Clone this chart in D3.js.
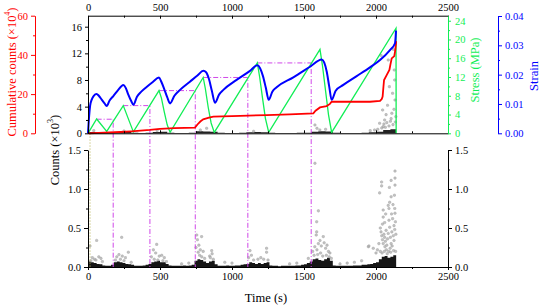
<!DOCTYPE html>
<html>
<head>
<meta charset="utf-8">
<script src="https://cdn.jsdelivr.net/npm/d3@7"></script>
<style>
  body { margin: 0; background: #fff; }
  svg { display: block; font-family: "Liberation Serif", "Times New Roman", serif; }
  .axis text { font-family: "Liberation Serif", "Times New Roman", serif; font-size: 10.5px; }
</style>
</head>
<body>
<div id="chart"></div>
<script>
// stress (MPa) vs time (s)
const stressData = [[0,0],[60,3.05],[130,0.4],[245,5.9],[315,0.3],[493,9.1],[510,7.5],[530,4.5],[550,1.8],[570,0.2],
  [800,11.9],[815,9.5],[835,5.5],[855,2.2],[877,0.2],[1176,15.0],[1192,12],[1212,7.5],[1232,3.2],[1255,0.2],
  [1611,17.9],[1628,14.5],[1648,9.5],[1670,4.0],[1692,0.2],[2139,22.4],[2140,0]];

// strain vs time
const strainData = [[0,0],[8,0.006],[15,0.0095],[25,0.0114],[40,0.0128],[60,0.0134],[75,0.0128],[95,0.0115],[115,0.0102],[130,0.0093],
  [150,0.0112],[176,0.0127],[210,0.0148],[245,0.0165],[262,0.0155],[280,0.0132],[300,0.011],[315,0.0097],
  [340,0.0125],[370,0.0142],[407,0.0158],[450,0.0175],[493,0.019],[510,0.0175],[530,0.015],[550,0.0123],[570,0.0102],
  [600,0.0128],[639,0.0148],[708,0.0176],[760,0.0197],[801,0.0213],[820,0.0208],[840,0.0185],[860,0.0145],[882,0.0104],
  [910,0.0132],[940,0.0148],[1032,0.0182],[1125,0.0213],[1176,0.0232],[1195,0.0222],[1215,0.0195],[1235,0.0155],[1255,0.0114],
  [1280,0.0142],[1310,0.0157],[1426,0.0191],[1542,0.0227],[1623,0.0252],[1640,0.0242],[1658,0.021],[1675,0.016],[1692,0.0114],
  [1720,0.0145],[1773,0.0165],[1866,0.0195],[1958,0.0225],[2028,0.025],[2097,0.0284],[2132,0.0307],[2135,0.032],[2139,0.035]];

// cumulative counts (x10^4) vs time
const cumData = [[0,0],[150,0.4],[300,1.0],[430,1.7],[500,2.3],[600,2.6],[743,2.9],[760,4.5],[780,6.0],[800,7.1],[840,8.0],[870,8.5],
  [1000,8.8],[1240,9.3],[1400,9.7],[1565,10.2],[1580,11.5],[1611,13.2],[1657,13.9],[1680,15.0],[1692,16.1],[1958,16.1],
  [2028,16.5],[2040,17.5],[2046,18.7],[2052,24],[2056,27.2],[2074,29.7],[2093,32.3],[2100,35],[2109,38.2],[2127,39.4],
  [2133,42],[2139,45.9],[2140,47]];

// Kaiser lines: peak time, peak stress, time where the next cycle reaches it
const kaiserLines = [[60,3.0,175],[245,5.9,430],[493,9.1,745],[800,11.9,1110],[1176,15.0,1550]];
const oliveT = 14;

// dense counts band near zero, bottom panel (bin start every 20 s, height x10^3)
const bandBottom = [0.07,0.06,0.05,0.04,0.035,0.02,0.015,0.015,0.03,0.06,0.07,0.06,0.05,0.04,0.035,0.03,0.015,0.015,0.015,0.02,
  0.03,0.04,0.06,0.07,0.08,0.06,0.06,0.04,0.02,0.015,0.015,0.015,0.015,0.02,0.015,0.02,0.03,0.08,0.10,0.09,
  0.07,0.05,0.07,0.08,0.035,0.015,0.015,0.015,0.02,0.015,0.015,0.02,0.02,0.03,0.035,0.04,0.06,0.05,0.04,0.05,
  0.04,0.05,0.06,0.02,0.015,0.015,0.01,0.015,0.015,0.015,0.015,0.015,0.02,0.02,0.03,0.035,0.05,0.07,0.10,0.11,
  0.09,0.08,0.10,0.12,0.08,0.02,0.015,0.015,0.015,0.015,0.015,0.015,0.02,0.02,0.02,0.03,0.03,0.035,0.04,0.05,
  0.06,0.10,0.13,0.14,0.12,0.13,0.15];
const bandBottomStep = 20;

// scattered counts, bottom panel [t, counts x10^3]
const countsPts = [[14,0.27],[60,0.34],[30,0.12],[45,0.1],[75,0.13],[90,0.11],[20,0.08],[55,0.09],[100,0.07],
  [234,0.38],[280,0.19],[238,0.14],[200,0.13],[215,0.16],[260,0.12],[190,0.09],[225,0.1],[250,0.08],[300,0.06],
  [477,0.29],[512,0.15],[454,0.22],[470,0.18],[440,0.13],[495,0.14],[530,0.12],[460,0.1],[485,0.09],[520,0.08],[545,0.07],
  [755,0.41],[789,0.39],[760,0.35],[770,0.28],[780,0.22],[765,0.19],[800,0.2],[750,0.25],[859,0.21],[862,0.17],[845,0.14],
  [775,0.15],[790,0.13],[810,0.11],[850,0.12],[870,0.1],[950,0.06],[1000,0.05],[700,0.05],[650,0.04],
  [1125,0.21],[1135,0.15],[1115,0.12],[1240,0.24],[1240,0.19],[1180,0.1],[1200,0.12],[1150,0.09],[1220,0.1],[1250,0.09],
  [1530,0.11],[1576,1.33],[1600,0.72],[1588,0.58],[1588,0.45],[1585,0.41],[1611,0.34],[1634,0.39],[1600,0.3],[1620,0.27],
  [1575,0.26],[1590,0.22],[1650,0.24],[1670,0.2],[1680,0.18],[1560,0.2],[1640,0.31],[1660,0.28],[1570,0.15],[1595,0.16],
  [1615,0.18],[1630,0.14],[1655,0.15],[1675,0.13],[1690,0.11],[1450,0.05],[1400,0.04],
  [1947,0.26],[1951,0.27],[1981,0.24],[1900,0.08],[1850,0.06],[1800,0.05],[1750,0.04],
  [2039,1.09],[2039,1.04],[2025,0.95],[2093,1.02],[2105,1.11],[2132,1.23],[2132,1.14],[2132,1.05],[2105,0.9],[2085,0.79],
  [2090,0.75],[2050,0.73],[2050,0.64],[2045,0.55],[2132,0.69],[2125,0.53],[2030,0.5],[2035,0.45],[2040,0.4],[2045,0.35],
  [2050,0.3],[2055,0.42],[2060,0.38],[2065,0.33],[2070,0.47],[2075,0.28],[2080,0.36],[2085,0.43],[2090,0.6],[2095,0.51],
  [2100,0.38],[2105,0.3],[2110,0.45],[2115,0.62],[2120,0.4],[2125,0.34],[2130,0.48],[2135,0.58],[2138,0.42],[2062,0.26],
  [2072,0.22],[2098,0.24],[2112,0.27],[2020,0.3],[2010,0.22],[2000,0.18],[2108,0.68],[2118,0.8],[2095,0.83],[2060,0.57],
  [2067,0.68],[2128,0.92],[2130,0.75],[2030,0.2],[2042,0.18],[2058,0.2],[2078,0.17],[2088,0.2],[2102,0.19],[2122,0.21],[2136,0.2]];

// top panel: band near zero (bin every 50 s) and scattered points, left-axis units
const bandTop = [0.2,0.15,0.08,0.15,0.2,0.18,0.08,0.05,0.08,0.2,0.22,0.08,0.05,0.05,0.08,0.3,0.28,0.22,0.08,0.05,
  0.05,0.08,0.15,0.18,0.15,0.1,0.05,0.05,0.05,0.08,0.1,0.25,0.3,0.28,0.08,0.05,0.05,0.05,0.08,0.15,0.25,0.5,0.6];
const bandTopStep = 50;
const topPts = [[40,0.4],[250,0.35],[480,0.4],[780,0.5],[824,0.75],[1150,0.3],[1576,1.25],[1590,0.75],[1610,0.5],[1650,0.6],[1960,0.4],
  [2035,11.7],[2085,11],[2120,12.6],[2127,9.5],[2093,7],[2132,5],[2046,3.5],[2070,2.8],[2110,3],[2025,1.5],
  [2060,2],[2100,1.8],[2080,4.2],[2115,6],[2130,8],[2050,1],[2138,2.5],[2040,0.8],[2055,1.4],[2065,0.9],[2075,1.6],
  [2090,1.1],[2105,2.2],[2118,1.3],[2125,3.6],[2135,1.7],[2012,0.6],[1990,0.5]];

const timeTicks = [0,500,1000,1500,2000,2500];
const timeMinor = [250,750,1250,1750,2250];

const W = 540, H = 308;
const svg = d3.select("#chart").append("svg").attr("width", W).attr("height", H);

const RED = "#ff0000", GREEN = "#11ee55", BLUE = "#0000ff", MAG = "#d048e8";

// scales
const topY0 = 133.3, topY1 = 15.7, botY0 = 267, botY1 = 150;
const x = d3.scaleLinear().domain([0,2500]).range([88,448]);
const yLeft = d3.scaleLinear().domain([0,17.65]).range([topY0, topY1]);
const yStress = d3.scaleLinear().domain([0,25.07]).range([topY0, topY1]);
const yCum = d3.scaleLinear().domain([0,60]).range([topY0, topY1]);
const yStrain = d3.scaleLinear().domain([0,0.04]).range([topY0, 16]);
const yB = d3.scaleLinear().domain([0,1.5]).range([botY0, botY1]);

function addAxis(axis, tx, ty, color, minorAxis) {
  const g = svg.append("g").attr("class", "axis").attr("transform", `translate(${tx},${ty})`).call(axis);
  g.selectAll("path,line").attr("stroke", color).attr("stroke-width", 1);
  g.selectAll("text").attr("fill", color);
  if (minorAxis) {
    const m = svg.append("g").attr("transform", `translate(${tx},${ty})`).call(minorAxis);
    m.select(".domain").remove();
    m.selectAll("line").attr("stroke", color);
  }
  return g;
}

// band of dense points near zero, drawn as a step area
function band(values, step, ys, y0, color) {
  const pts = values.map((v, i) => [i * step, v]);
  pts.push([2140, values[values.length - 1]]);
  svg.append("path").datum(pts)
    .attr("d", d3.area().curve(d3.curveStepAfter).x(d => x(d[0])).y0(y0).y1(d => ys(d[1])))
    .attr("fill", color);
}

// ---- top panel data ----
band(bandTop, bandTopStep, yLeft, topY0, "#222");
svg.append("g").selectAll("circle").data(topPts).join("circle")
  .attr("cx", d => x(d[0])).attr("cy", d => yLeft(d[1])).attr("r", 1.3)
  .attr("fill", "#b4b4b4").attr("stroke", "#8a8a8a").attr("stroke-width", 0.4).attr("opacity", 0.8);

// ---- bottom panel data ----
band(bandBottom, bandBottomStep, yB, botY0, "#161616");
svg.append("g").selectAll("circle").data(countsPts).join("circle")
  .attr("cx", d => x(d[0])).attr("cy", d => yB(d[1])).attr("r", 1.3)
  .attr("fill", "#b4b4b4").attr("stroke", "#8a8a8a").attr("stroke-width", 0.4).attr("opacity", 0.8);

// olive dotted line
svg.append("line")
  .attr("x1", x(oliveT)).attr("x2", x(oliveT)).attr("y1", topY0).attr("y2", botY0)
  .attr("stroke", "#c2bd6a").attr("stroke-width", 0.8).attr("stroke-dasharray", "1.5,1.5");

// Kaiser (magenta dash-dot) lines
svg.append("g").selectAll("path").data(kaiserLines).join("path")
  .attr("d", d => `M${x(d[0])},${yStress(d[1])}H${x(d[2])}V${botY0}`)
  .attr("fill", "none").attr("stroke", MAG).attr("stroke-width", 1)
  .attr("stroke-dasharray", "5,2,1,2");

// curves
const line = ys => d3.line().x(d => x(d[0])).y(d => ys(d[1]));
svg.append("path").datum(stressData).attr("d", line(yStress))
  .attr("fill", "none").attr("stroke", GREEN).attr("stroke-width", 1.3);
svg.append("path").datum(cumData).attr("d", line(yCum))
  .attr("fill", "none").attr("stroke", RED).attr("stroke-width", 1.8);
svg.append("path").datum(strainData).attr("d", line(yStrain).curve(d3.curveMonotoneX))
  .attr("fill", "none").attr("stroke", BLUE).attr("stroke-width", 2);

// ---- axes: top panel ----
addAxis(d3.axisTop(x).tickValues(timeTicks).tickSizeInner(-3).tickSizeOuter(0).tickPadding(5).tickFormat(d3.format("d")),
  0, topY1, "#000", d3.axisTop(x).tickValues(timeMinor).tickSize(-2).tickFormat(""));
addAxis(d3.axisBottom(x).tickValues(timeTicks).tickSizeInner(-3).tickSizeOuter(0).tickFormat(""),
  0, topY0, "#000", d3.axisBottom(x).tickValues(timeMinor).tickSize(-2).tickFormat(""));
addAxis(d3.axisLeft(yLeft).tickValues([0,4,8,12,16]).tickSizeInner(3).tickSizeOuter(0).tickPadding(3),
  88, 0, "#000", d3.axisLeft(yLeft).tickValues([2,6,10,14]).tickSize(2).tickFormat(""));
addAxis(d3.axisRight(yStress).tickValues([0,4,8,12,16,20,24]).tickSizeInner(3).tickSizeOuter(0).tickPadding(4),
  448, 0, GREEN, d3.axisRight(yStress).tickValues([2,6,10,14,18,22]).tickSize(2).tickFormat(""));
addAxis(d3.axisLeft(yCum).tickValues([0,20,40,60]).tickSizeInner(4).tickSizeOuter(0).tickPadding(3),
  35, 0, RED, d3.axisLeft(yCum).tickValues([10,30,50]).tickSize(2).tickFormat(""));
addAxis(d3.axisRight(yStrain).tickValues([0,0.01,0.02,0.03,0.04]).tickSizeInner(4).tickSizeOuter(0).tickPadding(3).tickFormat(d3.format(".2f")),
  498, 0, BLUE, d3.axisRight(yStrain).tickValues([0.005,0.015,0.025,0.035]).tickSize(2).tickFormat(""));

// ---- axes: bottom panel ----
addAxis(d3.axisBottom(x).tickValues(timeTicks).tickSizeInner(3).tickSizeOuter(0).tickPadding(3).tickFormat(d3.format("d")),
  0, botY0, "#000", d3.axisBottom(x).tickValues(timeMinor).tickSize(2).tickFormat(""));
addAxis(d3.axisLeft(yB).tickValues([0,0.5,1,1.5]).tickSizeInner(4).tickSizeOuter(0).tickPadding(3).tickFormat(d3.format(".1f")),
  88, 0, "#000", d3.axisLeft(yB).tickValues([0.25,0.75,1.25]).tickSize(2).tickFormat(""));
addAxis(d3.axisRight(yB).tickValues([0,0.5,1,1.5]).tickSizeInner(4).tickSizeOuter(0).tickPadding(3).tickFormat(d3.format(".1f")),
  448, 0, "#000", d3.axisRight(yB).tickValues([0.25,0.75,1.25]).tickSize(2).tickFormat(""));

// ---- axis titles ----
function vTitle(cx, cy, color, main, sup) {
  const t = svg.append("text")
    .attr("transform", `translate(${cx},${cy}) rotate(-90)`)
    .attr("text-anchor", "middle").attr("dominant-baseline", "central")
    .attr("font-size", 12.5).attr("fill", color);
  t.append("tspan").text(main);
  if (sup) {
    t.append("tspan").attr("font-size", 8).attr("dy", -5).text(sup);
    t.append("tspan").attr("dy", 5).text(")");
  }
}
vTitle(12, 72, RED, "Cumulative counts (\u00d710", "4");
vTitle(475, 70, GREEN, "Stress (MPa)");
vTitle(534, 76, BLUE, "Strain");
vTitle(55, 150, "#000", "Counts (\u00d710", "3");

svg.append("text").attr("x", 266).attr("y", 302).attr("text-anchor", "middle")
  .attr("font-size", 12.5).text("Time (s)");
</script>
</body>
</html>
